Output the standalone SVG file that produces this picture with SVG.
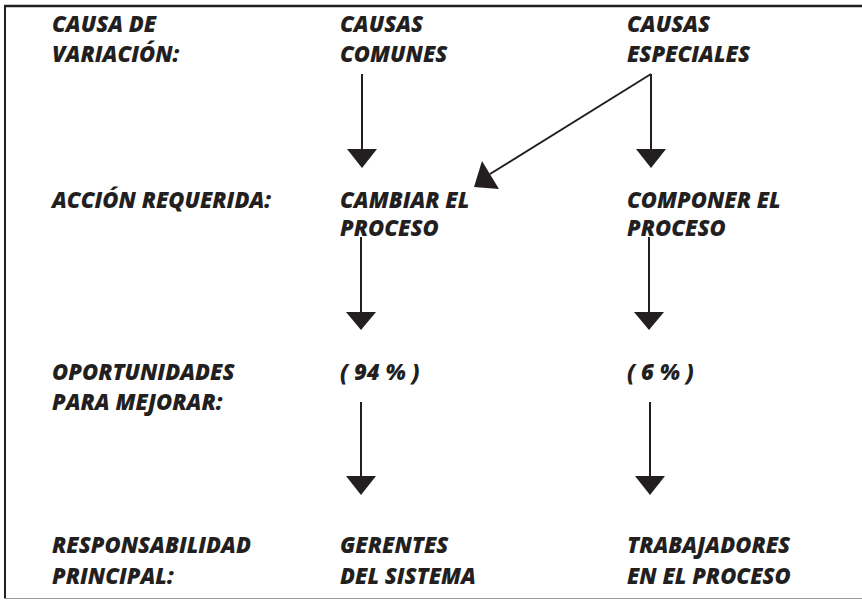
<svg xmlns="http://www.w3.org/2000/svg" width="862" height="600" viewBox="0 0 862 600">
<defs>
<style>
.t{font-family:"Open Sans","Liberation Sans",sans-serif;font-weight:800;font-style:italic;font-size:22px;fill:#231f20}
.c{stroke:#231f20;stroke-width:2;fill:none}
.h{fill:#231f20;stroke:none}
</style>
</defs>
<rect width="862" height="600" fill="#ffffff"/>
<g id="frame">
<line x1="4" y1="6" x2="862" y2="6" stroke="#231f20" stroke-width="2.5"/>
<line x1="5" y1="5" x2="5" y2="598" stroke="#231f20" stroke-width="2"/>
<line x1="4" y1="598.5" x2="862" y2="598.5" stroke="#999" stroke-width="1"/>
</g>
<g id="labels">
<text class="t" x="52" y="32">CAUSA DE</text>
<text class="t" x="52" y="62">VARIACIÓN:</text>
<text class="t" x="52" y="208">ACCIÓN REQUERIDA:</text>
<text class="t" x="52" y="380">OPORTUNIDADES</text>
<text class="t" x="52" y="410">PARA MEJORAR:</text>
<text class="t" x="52" y="553">RESPONSABILIDAD</text>
<text class="t" x="52" y="584">PRINCIPAL:</text>
</g>
<g id="comunes"><text class="t" x="340" y="32">CAUSAS</text><text class="t" x="340" y="62">COMUNES</text></g>
<g id="especiales"><text class="t" x="627" y="32">CAUSAS</text><text class="t" x="627" y="62">ESPECIALES</text></g>
<g id="cambiar"><text class="t" x="340" y="208">CAMBIAR EL</text><text class="t" x="340" y="236">PROCESO</text></g>
<g id="componer"><text class="t" x="627" y="208">COMPONER EL</text><text class="t" x="627" y="236">PROCESO</text></g>
<g id="p94"><text class="t" x="340" y="380">( 94 % )</text></g>
<g id="p6"><text class="t" x="627" y="380">( 6 % )</text></g>
<g id="gerentes"><text class="t" x="340" y="553">GERENTES</text><text class="t" x="340" y="584">DEL SISTEMA</text></g>
<g id="trabajadores"><text class="t" x="627" y="553">TRABAJADORES</text><text class="t" x="627" y="584">EN EL PROCESO</text></g>
<g id="connectors">
<line class="c" x1="362" y1="74" x2="362" y2="150"/>
<polygon class="h" points="347,149 377,149 362,168"/>
<line class="c" x1="651" y1="74" x2="651" y2="150"/>
<polygon class="h" points="636,149 666,149 651,168"/>
<line class="c" x1="651" y1="74" x2="490" y2="174"/>
<polygon class="h" points="474,187 482,161 499,189"/>
<line class="c" x1="361" y1="237" x2="361" y2="313"/>
<polygon class="h" points="346,312 376,312 361,330"/>
<line class="c" x1="649" y1="237" x2="649" y2="313"/>
<polygon class="h" points="634,312 664,312 649,330"/>
<line class="c" x1="361" y1="402" x2="361" y2="477"/>
<polygon class="h" points="346,476 376,476 361,495"/>
<line class="c" x1="650" y1="402" x2="650" y2="477"/>
<polygon class="h" points="635,476 665,476 650,495"/>
</g>
</svg>
